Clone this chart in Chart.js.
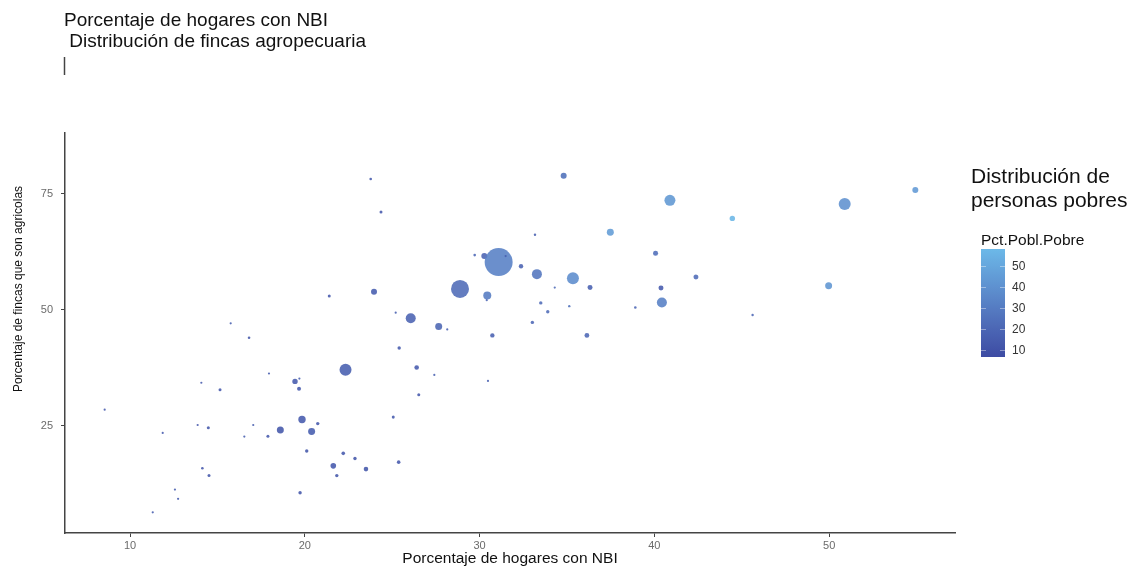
<!DOCTYPE html>
<html lang="es">
<head>
<meta charset="utf-8">
<title>NBI y fincas agropecuarias</title>
<script src="https://cdn.jsdelivr.net/npm/chart.js@4.4.1/dist/chart.umd.min.js"></script>
<style>
  html, body { margin: 0; padding: 0; background: #fff; }
  #wrap { width: 1130px; height: 568px; }
</style>
</head>
<body>
<div id="wrap"><canvas id="grafico" width="1130" height="568"></canvas></div>
<script>
// porcentaje de hogares con NBI por municipio
const nbi = [8.55, 11.30, 11.87, 12.57, 12.75, 13.87, 14.08, 14.14, 14.48, 14.52,
  15.15, 15.76, 16.54, 16.81, 17.05, 17.89, 17.95, 18.60, 19.44, 19.69,
  19.67, 19.73, 19.84, 20.11, 20.39, 20.74, 21.40, 21.63, 21.83, 22.20,
  22.33, 22.87, 23.50, 23.77, 23.96, 24.36, 25.06, 25.20, 25.37, 25.40,
  26.06, 26.40, 26.52, 27.41, 27.66, 28.15, 28.88, 29.72, 30.27, 30.48,
  30.44, 30.41, 30.73, 31.09, 31.49, 32.37, 33.02, 33.17, 33.28, 33.50,
  33.90, 34.30, 34.81, 35.13, 35.34, 36.14, 36.32, 37.48, 38.91, 40.07,
  40.38, 40.43, 40.89, 42.38, 44.46, 45.62, 49.97, 50.89, 54.93];

// porcentaje de fincas que son agricolas
const agricolas = [28.5, 6.4, 23.5, 11.3, 9.3, 25.2, 34.3, 15.9, 24.6, 14.3,
  32.8, 47.1, 22.7, 44.0, 25.2, 22.8, 36.3, 24.1, 34.6, 35.2,
  33.0, 10.6, 26.4, 19.6, 23.8, 25.5, 53.0, 16.4, 14.3, 19.1,
  37.1, 18.0, 15.7, 78.2, 53.9, 71.1, 26.9, 49.4, 17.2, 41.8,
  48.2, 37.6, 31.7, 36.0, 46.4, 45.8, 54.5, 61.8, 61.6, 34.7,
  53.1, 52.1, 44.5, 60.3, 61.6, 59.4, 47.3, 66.2, 57.7, 51.5,
  49.6, 54.8, 78.9, 50.8, 56.8, 44.5, 54.8, 66.7, 50.5, 62.2,
  54.7, 51.6, 73.6, 57.1, 69.7, 48.9, 55.2, 72.8, 75.8];

// Pct.Pobl.Pobre (color)
const pctPobre = [14, 15, 14, 16, 15, 13, 14, 13, 12, 12,
  13, 16, 16, 12, 15, 13, 15, 12, 14, 16,
  13, 12, 14, 12, 15, 13, 13, 13, 12, 13,
  16, 12, 12, 14, 15, 13, 14, 16, 13, 14,
  18, 14, 13, 18, 19, 16, 22, 20, 18, 18,
  30, 20, 17, 32, 16, 18, 20, 17, 27, 22,
  22, 22, 24, 25, 38, 20, 17, 45, 20, 23,
  14, 32, 43, 22, 57, 20, 42, 40, 44];

// personas pobres en miles (tamaño del punto)
const pobres = [1.5, 1.5, 1.5, 1.5, 1.5, 1.5, 1.5, 2.1, 2.8, 2.8,
  2.8, 1.5, 1.5, 2.1, 1.5, 2.8, 1.5, 15.1, 9.0, 1.5,
  4.9, 3.6, 16.9, 3.6, 15.1, 3.6, 2.8, 9.7, 3.6, 4.0,
  44.4, 3.6, 6.5, 2.1, 11.1, 2.8, 2.8, 1.5, 4.0, 3.6,
  30.9, 6.5, 2.8, 1.5, 15.1, 1.5, 100, 2.1, 11.1, 1.5,
  19.8, 1.5, 6.0, 242, 1.5, 6.0, 3.6, 1.8, 30.9, 3.6,
  3.6, 1.5, 11.1, 1.8, 44.4, 7.1, 7.7, 15.1, 2.1, 7.7,
  7.7, 30.9, 37.3, 7.7, 9.0, 1.8, 15.1, 44.4, 11.1];

const ticksX = [10, 20, 30, 40, 50];
const ticksY = [25, 50, 75];
const ticksLeyenda = [10, 20, 30, 40, 50];
const rangoPobre = [6.5, 58.4];

const titulo = ['Porcentaje de hogares con NBI', ' Distribución de fincas agropecuaria'];
const tituloY = 'Porcentaje de fincas que son agricolas';
const tituloLeyenda = ['Distribución de', 'personas pobres'];

const fuente = '"Liberation Sans", Arial, sans-serif';
const colorBajo = '#3D4BA3';
const colorAlto = '#6CB9E8';

// gradiente interpolado en CIELAB
function hexRgb(h) {
  return [1, 3, 5].map(i => parseInt(h.substr(i, 2), 16));
}
function rgbLab(rgb) {
  const l = rgb.map(v => { v /= 255; return v > 0.04045 ? Math.pow((v + 0.055) / 1.055, 2.4) : v / 12.92; });
  let x = (l[0] * 0.4124 + l[1] * 0.3576 + l[2] * 0.1805) / 0.95047;
  let y = (l[0] * 0.2126 + l[1] * 0.7152 + l[2] * 0.0722);
  let z = (l[0] * 0.0193 + l[1] * 0.1192 + l[2] * 0.9505) / 1.08883;
  const f = t => t > 0.008856 ? Math.cbrt(t) : 7.787 * t + 16 / 116;
  x = f(x); y = f(y); z = f(z);
  return [116 * y - 16, 500 * (x - y), 200 * (y - z)];
}
function labRgb(lab) {
  let y = (lab[0] + 16) / 116, x = lab[1] / 500 + y, z = y - lab[2] / 200;
  const g = t => t * t * t > 0.008856 ? t * t * t : (t - 16 / 116) / 7.787;
  x = g(x) * 0.95047; y = g(y); z = g(z) * 1.08883;
  const l = [x * 3.2406 + y * -1.5372 + z * -0.4986,
    x * -0.9689 + y * 1.8758 + z * 0.0415,
    x * 0.0557 + y * -0.2040 + z * 1.0570];
  return l.map(v => {
    v = v > 0.0031308 ? 1.055 * Math.pow(v, 1 / 2.4) - 0.055 : 12.92 * v;
    return Math.round(Math.min(1, Math.max(0, v)) * 255);
  });
}
const labBajo = rgbLab(hexRgb(colorBajo));
const labAlto = rgbLab(hexRgb(colorAlto));

function colorPobre(v, a) {
  let t = (v - rangoPobre[0]) / (rangoPobre[1] - rangoPobre[0]);
  t = Math.min(1, Math.max(0, t));
  const c = labRgb(labBajo.map((b, i) => b + (labAlto[i] - b) * t));
  return 'rgba(' + c[0] + ',' + c[1] + ',' + c[2] + ',' + a + ')';
}

const puntos = nbi.map((x, i) => ({ x: x, y: agricolas[i], r: Math.sqrt(pobres[i]) * 0.9 }));

// titulos, marca suelta y barra de color de la leyenda
const decor = {
  id: 'decor',
  afterDraw(chart) {
    const c = chart.ctx;
    c.save();
    c.fillStyle = '#111';
    c.textAlign = 'left';
    c.textBaseline = 'middle';
    c.font = '19px ' + fuente;
    c.fillText(titulo[0], 64, 21);
    c.fillText(titulo[1], 64, 42);

    c.strokeStyle = '#444';
    c.lineWidth = 1.5;
    c.beginPath();
    c.moveTo(64.5, 57);
    c.lineTo(64.5, 75);
    c.stroke();

    // titulo del eje y
    c.save();
    c.translate(19, 289);
    c.rotate(-Math.PI / 2);
    c.textAlign = 'center';
    c.font = '12px ' + fuente;
    c.fillText(tituloY, 0, 0);
    c.restore();

    c.font = '21px ' + fuente;
    c.fillText(tituloLeyenda[0], 971, 177);
    c.fillText(tituloLeyenda[1], 971, 201);
    c.font = '15.5px ' + fuente;
    c.fillText('Pct.Pobl.Pobre', 981, 241);

    const x0 = 981, x1 = 1005, y0 = 249, y1 = 357;
    const g = c.createLinearGradient(0, y1, 0, y0);
    for (let k = 0; k <= 20; k++) {
      const v = rangoPobre[0] + (rangoPobre[1] - rangoPobre[0]) * k / 20;
      g.addColorStop(k / 20, colorPobre(v, 1));
    }
    c.fillStyle = g;
    c.fillRect(x0, y0, x1 - x0, y1 - y0);

    const yDe = v => y1 - (v - rangoPobre[0]) / (rangoPobre[1] - rangoPobre[0]) * (y1 - y0);
    c.strokeStyle = 'rgba(255,255,255,0.4)';
    c.lineWidth = 1;
    c.fillStyle = '#333';
    c.font = '12px ' + fuente;
    ticksLeyenda.forEach(v => {
      const y = Math.round(yDe(v)) + 0.5;
      c.beginPath();
      c.moveTo(x0, y); c.lineTo(x0 + 5, y);
      c.moveTo(x1 - 5, y); c.lineTo(x1, y);
      c.stroke();
      c.fillText(String(v), 1012, y);
    });
    c.restore();
  }
};

new Chart(document.getElementById('grafico'), {
  type: 'bubble',
  data: {
    datasets: [{
      data: puntos,
      backgroundColor: pctPobre.map(v => colorPobre(v, 0.88)),
      borderWidth: 0,
      hoverBorderWidth: 0
    }]
  },
  options: {
    responsive: false,
    animation: false,
    layout: { padding: { left: 0, right: 175, top: 133, bottom: 0 } },
    plugins: {
      legend: { display: false },
      tooltip: { enabled: false }
    },
    scales: {
      x: {
        type: 'linear',
        min: 6.28,
        max: 57.2,
        afterBuildTicks: s => { s.ticks = ticksX.map(v => ({ value: v })); },
        afterFit: s => { s.height = 35; },
        grid: { drawOnChartArea: false, drawTicks: true, tickLength: 4, color: '#444' },
        border: { display: true, color: '#444', width: 1.5 },
        ticks: { padding: 2, color: '#6b6b6b', font: { family: fuente, size: 11 } },
        title: {
          display: true,
          text: 'Porcentaje de hogares con NBI',
          color: '#111',
          font: { family: fuente, size: 15.5 },
          padding: { top: 0, bottom: 0 }
        }
      },
      y: {
        type: 'linear',
        min: 1.94,
        max: 88.1,
        afterBuildTicks: s => { s.ticks = ticksY.map(v => ({ value: v })); },
        afterFit: s => { s.width = 65; },
        grid: { drawOnChartArea: false, drawTicks: true, tickLength: 4, color: '#444' },
        border: { display: true, color: '#444', width: 1.5 },
        ticks: { padding: 8, color: '#6b6b6b', font: { family: fuente, size: 11 } },
        title: { display: false }
      }
    }
  },
  plugins: [decor]
});
</script>
</body>
</html>
